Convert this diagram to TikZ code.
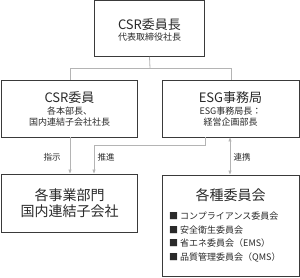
\documentclass[tikz,border=0pt]{standalone}
\usepackage{fontspec}
\setmainfont{Noto Sans CJK JP}
\usetikzlibrary{arrows.meta}
\definecolor{boxline}{HTML}{3A3A3A}
\definecolor{conn}{HTML}{B4B4B4}
\definecolor{txt}{HTML}{2A2A2A}
\tikzset{
  orgbox/.style={draw=boxline, line width=0.9pt, fill=white, inner sep=0pt},
  link/.style={draw=conn, line width=0.8pt},
  arr/.style={-{Triangle[length=4pt,width=3pt]}},
  darr/.style={{Triangle[length=4pt,width=3pt]}-{Triangle[length=4pt,width=3pt]}},
  ttl/.style={text=txt, font=\fontsize{13}{15}\selectfont, inner sep=0pt},
  sub/.style={text=txt, font=\fontsize{9}{11}\selectfont, inner sep=0pt},
  big/.style={text=txt, font=\fontsize{14}{16}\selectfont, inner sep=0pt},
  lbl/.style={text=txt, font=\fontsize{8.5}{10}\selectfont, inner sep=0pt},
  item/.style={text=txt, font=\fontsize{9}{11}\selectfont, inner sep=0pt, anchor=west},
}
\begin{document}
\begin{tikzpicture}[x=1pt,y=-1pt]
\useasboundingbox (0,0) rectangle (300,277);
% boxes
\node[orgbox, minimum width=110pt, minimum height=56pt] (top) at (149.5,28.5) {};
\node[orgbox, minimum width=136pt, minimum height=57pt] (csr) at (69.5,108.5) {};
\node[orgbox, minimum width=137pt, minimum height=57pt] (esg) at (230.5,108.5) {};
\node[orgbox, minimum width=136pt, minimum height=58pt] (biz) at (69.5,203) {};
\node[orgbox, minimum width=137pt, minimum height=101pt] (cmt) at (230.5,225.5) {};
% texts
\node[ttl] (t1) at (149.5,25) {CSR委員長};
\node[sub] (t2) at (149.5,37) {代表取締役社長};
\node[ttl] (c1) at (69.5,98) {CSR委員};
\node[sub] (c2) at (69.5,111.5) {各本部長、};
\node[sub] (c3) at (69.5,122.5) {国内連結子会社社長};
\node[ttl] (e1) at (230.5,98) {ESG事務局};
\node[sub] (e2) at (230.5,111.5) {ESG事務局長：};
\node[sub] (e3) at (230.5,122.5) {経営企画部長};
\node[big] (b1) at (69.5,195) {各事業部門};
\node[big] (b2) at (69.5,211) {国内連結子会社};
\node[big] (m1) at (230.5,195) {各種委員会};
\node[item] (i1) at (169,216) {■ コンプライアンス委員会};
\node[item] (i2) at (169,229.7) {■ 安全衛生委員会};
\node[item] (i3) at (169,243.3) {■ 省エネ委員会（EMS）};
\node[item] (i4) at (169,257) {■ 品質管理委員会（QMS）};
% connectors
\coordinate (j) at (150,68);
\draw[link] (top.south) -- (j);
\draw[link] (70,68) -- (231,68);
\draw[link] (70,68) -- (csr.north -| 70,0);
\draw[link] (231,68) -- (esg.north -| 231,0);
\draw[link, arr] (csr.south -| 70,0) -- (biz.north -| 70,0);
\draw[link, arr] (esg.south -| 205,0) -- (205,145) -- (94,145) -- (biz.north -| 94,0);
\draw[link, darr] (esg.south -| 230,0) -- (cmt.north -| 230,0);
% labels
\node[lbl] (l1) at (52,157) {指示};
\node[lbl] (l2) at (106,157) {推進};
\node[lbl] (l3) at (242,157) {連携};
\end{tikzpicture}
\end{document}
